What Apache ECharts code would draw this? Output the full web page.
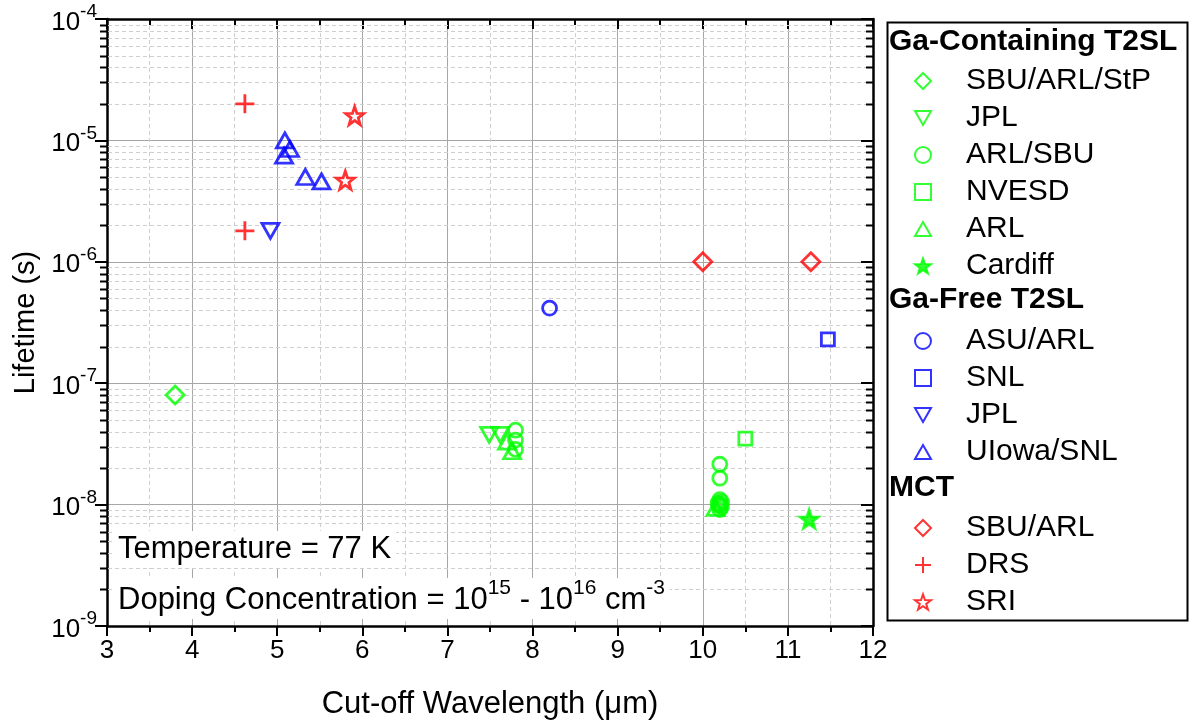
<!DOCTYPE html>
<html>
<head>
<meta charset="utf-8">
<script src="https://cdn.jsdelivr.net/npm/echarts@6/dist/echarts.min.js"></script>
<style>
  html, body { margin: 0; padding: 0; background: #ffffff; }
  #chart { width: 1192px; height: 726px; }
</style>
</head>
<body>
<div id="chart"></div>
<script>
// Minority-carrier lifetime vs. cut-off wavelength at 77 K
// x: cut-off wavelength (µm), y: lifetime (s)

// Ga-containing T2SL
const gaSbuArlStp = [[3.8, 8.0e-8]];
const gaJpl = [[7.49, 3.75e-8], [7.62, 3.75e-8]];
const gaArlSbu = [[7.8, 4.1e-8], [7.8, 3.4e-8], [7.8, 2.85e-8],
                  [10.2, 2.15e-8], [10.2, 1.65e-8], [10.2, 1.1e-8], [10.22, 1.05e-8],
                  [10.18, 1.03e-8], [10.2, 1.0e-8], [10.22, 9.6e-9], [10.19, 9.8e-9],
                  [10.2, 9.1e-9]];
const gaNvesd = [[10.5, 3.5e-8]];
const gaArl = [[7.7, 3.3e-8], [7.76, 2.75e-8], [10.15, 9.4e-9]];
const gaCardiff = [[11.25, 7.6e-9]];

// Ga-free T2SL
const gfAsuArl = [[8.2, 4.15e-7]];
const gfSnl = [[11.47, 2.3e-7]];
const gfJpl = [[4.92, 1.8e-6]];
const gfUiowaSnl = [[5.09, 1.0e-5], [5.15, 8.5e-6], [5.08, 7.5e-6], [5.33, 5.0e-6], [5.52, 4.6e-6]];

// MCT
const mctSbuArl = [[10.0, 1.0e-6], [11.27, 1.0e-6]];
const mctDrs = [[4.62, 2.0e-5], [4.62, 1.8e-6]];
const mctSri = [[5.91, 1.6e-5], [5.8, 4.7e-6]];

// axes
const xMin = 3, xMax = 12, xStep = 1;
const yMin = 1e-9, yMax = 1e-4;
const yDecades = [-9, -8, -7, -6, -5];
const yMinorMultipliers = [2, 3, 4, 5, 6, 7, 8, 9];

const groupHeaders = ['Ga-Containing T2SL', 'Ga-Free T2SL', 'MCT'];
const annotationTemp = 'Temperature = 77 K';

const FONT = '"Liberation Sans", Arial, Helvetica, sans-serif';
const GREEN = '#00ff00', BLUE = '#0000ff', RED = '#ff0000';

const SYM = {
  diamond: 'path://M0,-1L1,0L0,1L-1,0Z',
  down: 'path://M-1,-0.866L1,-0.866L0,0.866Z',
  up: 'path://M0,-0.866L1,0.866L-1,0.866Z',
  circle: 'circle',
  square: 'path://M-1,-1L1,-1L1,1L-1,1Z',
  star: 'path://M0,-1L0.2351,-0.3236L0.9511,-0.309L0.3804,0.1236L0.5878,0.809L0,0.4L-0.5878,0.809L-0.3804,0.1236L-0.9511,-0.309L-0.2351,-0.3236Z',
  plus: 'path://M0,-1L0,1M-1,0L1,0'
};

// series id -> [shown label, data, symbol, size, colour, filled]
const entries = [
  ['g1', 'SBU/ARL/StP', gaSbuArlStp, SYM.diamond, [18, 18], GREEN, false],
  ['g2', 'JPL', gaJpl, SYM.down, [17, 15], GREEN, false],
  ['g3', 'ARL/SBU', gaArlSbu, SYM.circle, [14, 14], GREEN, false],
  ['g4', 'NVESD', gaNvesd, SYM.square, [13, 13], GREEN, false],
  ['g5', 'ARL', gaArl, SYM.up, [17, 15], GREEN, false],
  ['g6', 'Cardiff', gaCardiff, SYM.star, [18, 18], GREEN, true],
  ['b1', 'ASU/ARL', gfAsuArl, SYM.circle, [14, 14], BLUE, false],
  ['b2', 'SNL', gfSnl, SYM.square, [13, 13], BLUE, false],
  ['b3', 'JPL', gfJpl, SYM.down, [17, 15], BLUE, false],
  ['b4', 'UIowa/SNL', gfUiowaSnl, SYM.up, [17, 15], BLUE, false],
  ['r1', 'SBU/ARL', mctSbuArl, SYM.diamond, [18, 18], RED, false],
  ['r2', 'DRS', mctDrs, SYM.plus, [19, 19], RED, false],
  ['r3', 'SRI', mctSri, SYM.star, [18, 18], RED, false]
];
const labelOf = {};
entries.forEach(e => { labelOf[e[0]] = e[1]; });

const scatterSeries = entries.map(([id, label, data, symbol, size, color, filled]) => ({
  type: 'scatter',
  name: id,
  data: data,
  symbol: symbol,
  symbolSize: size,
  z: 5,
  itemStyle: {
    color: filled ? color : 'rgba(0,0,0,0)',
    borderColor: color,
    borderWidth: 2.8
  },
  emphasis: { disabled: true }
}));

// minor gridlines and minor ticks of the log axis at 2..9 of each decade
const yMinor = [];
yDecades.forEach(d => yMinorMultipliers.forEach(m => yMinor.push(m * Math.pow(10, d))));

const minorSeries = {
  type: 'custom',
  silent: true,
  z: 1,
  clip: false,
  data: yMinor.map(v => [xMin, v]),
  encode: { x: 0, y: 1 },
  renderItem: function (params, api) {
    const v = api.value(1);
    const a = api.coord([xMin, v]);
    const b = api.coord([xMax, v]);
    const y = Math.round(a[1]) + 0.5;
    return {
      type: 'group',
      children: [
        { type: 'line', shape: { x1: a[0] + 1, y1: y, x2: b[0] - 1, y2: y },
          style: { stroke: '#cfcfcf', lineWidth: 1, lineDash: [4, 3] } },
        { type: 'line', shape: { x1: a[0] - 7, y1: y, x2: a[0], y2: y },
          style: { stroke: '#000', lineWidth: 2 } },
        { type: 'line', shape: { x1: b[0] - 7, y1: y, x2: b[0], y2: y },
          style: { stroke: '#000', lineWidth: 2 } }
      ]
    };
  }
};

const legendCommon = {
  orient: 'vertical',
  left: 909,
  align: 'left',
  itemWidth: 16,
  itemHeight: 16,
  itemGap: 7,
  selectedMode: false,
  formatter: name => labelOf[name],
  textStyle: { fontFamily: FONT, fontSize: 30, color: '#000', lineHeight: 30, padding: [0, 0, 0, 30] }
};

const axisLine = { show: true, onZero: false, lineStyle: { color: '#000', width: 2.5 } };

const option = {
  animation: false,
  backgroundColor: '#ffffff',
  grid: { left: 107, top: 19, width: 766, height: 607, containLabel: false },
  xAxis: [
    {
      type: 'value', min: xMin, max: xMax, interval: xStep, position: 'bottom',
      axisLine: axisLine,
      axisTick: { show: true, inside: false, length: 10, lineStyle: { color: '#000', width: 2 } },
      minorTick: { show: true, splitNumber: 2, length: 6, lineStyle: { color: '#000', width: 2 } },
      axisLabel: { show: true, margin: 12, fontFamily: FONT, fontSize: 26, color: '#000' },
      splitLine: { show: true, lineStyle: { color: '#a6a6a6', width: 1 } },
      minorSplitLine: { show: true, lineStyle: { color: '#cfcfcf', width: 1, type: [4, 3] } },
      name: 'Cut-off Wavelength (\u03bcm)',
      nameLocation: 'middle',
      nameGap: 63,
      nameTextStyle: { fontFamily: FONT, fontSize: 31, color: '#000' }
    },
    {
      type: 'value', min: xMin, max: xMax, interval: xStep, position: 'top',
      axisLine: axisLine,
      axisTick: { show: true, inside: true, length: 10, lineStyle: { color: '#000', width: 2 } },
      minorTick: { show: true, splitNumber: 2, length: 6, lineStyle: { color: '#000', width: 2 } },
      axisLabel: { show: false },
      splitLine: { show: false }
    }
  ],
  yAxis: [
    {
      type: 'log', logBase: 10, min: yMin, max: yMax, position: 'left',
      axisLine: axisLine,
      axisTick: { show: true, inside: false, length: 12, lineStyle: { color: '#000', width: 2 } },
      axisLabel: {
        show: true, margin: 10,
        formatter: v => '{b|10}{s|' + Math.round(Math.log10(v)) + '}',
        rich: {
          b: { fontFamily: FONT, fontSize: 26, color: '#000', lineHeight: 33, verticalAlign: 'bottom' },
          s: { fontFamily: FONT, fontSize: 19, color: '#000', lineHeight: 19, verticalAlign: 'top' }
        }
      },
      splitLine: { show: true, lineStyle: { color: '#a6a6a6', width: 1 } },
      name: 'Lifetime (s)',
      nameLocation: 'middle',
      nameGap: 61,
      nameTextStyle: { fontFamily: FONT, fontSize: 29, color: '#000' }
    },
    {
      type: 'log', logBase: 10, min: yMin, max: yMax, position: 'right',
      axisLine: axisLine,
      axisTick: { show: true, inside: true, length: 12, lineStyle: { color: '#000', width: 2 } },
      axisLabel: { show: false },
      splitLine: { show: false }
    }
  ],
  legend: [
    Object.assign({ top: 61, data: ['g1', 'g2', 'g3', 'g4', 'g5', 'g6'] }, legendCommon),
    Object.assign({ top: 321, data: ['b1', 'b2', 'b3', 'b4'] }, legendCommon),
    Object.assign({ top: 508, data: ['r1', 'r2', 'r3'] }, legendCommon)
  ],
  graphic: [
    { type: 'rect', left: 885, top: 20, z: 10,
      shape: { width: 300, height: 598 },
      style: { fill: 'none', stroke: '#000', lineWidth: 2 } },
    { type: 'text', left: 889, top: 27, z: 11,
      style: { text: groupHeaders[0], font: 'bold 30px ' + FONT, fill: '#000' } },
    { type: 'text', left: 889, top: 285, z: 11,
      style: { text: groupHeaders[1], font: 'bold 30px ' + FONT, fill: '#000' } },
    { type: 'text', left: 889, top: 473, z: 11,
      style: { text: groupHeaders[2], font: 'bold 30px ' + FONT, fill: '#000' } },
    { type: 'text', left: 113, top: 531, z: 11,
      style: { text: annotationTemp, font: '31px ' + FONT, fill: '#000',
               backgroundColor: '#fff', padding: [3, 5, 3, 5] } },
    { type: 'text', left: 113, top: 578, z: 11,
      style: {
        text: '{n|Doping Concentration = 10}{s|15}{n| - 10}{s|16}{n| cm}{s|-3}',
        backgroundColor: '#fff', padding: [0, 5, 3, 5],
        rich: {
          n: { fontFamily: FONT, fontSize: 31, color: '#000', lineHeight: 38, verticalAlign: 'bottom' },
          s: { fontFamily: FONT, fontSize: 21, color: '#000', lineHeight: 21, verticalAlign: 'top' }
        }
      } }
  ],
  series: [minorSeries].concat(scatterSeries)
};

const chart = echarts.init(document.getElementById('chart'), null, { renderer: 'canvas' });
chart.setOption(option);
</script>
</body>
</html>
